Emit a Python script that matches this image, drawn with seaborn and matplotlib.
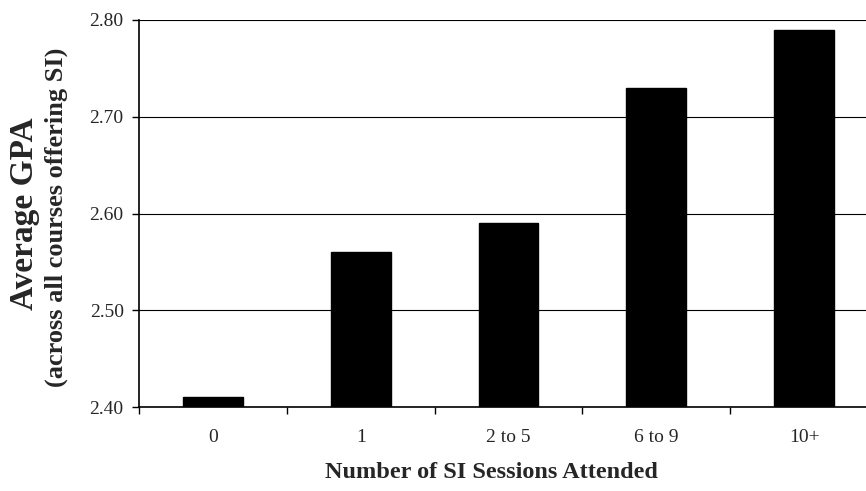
import pandas as pd
import matplotlib.pyplot as plt
import seaborn as sns

sns.set_style("ticks")
plt.rcParams['font.family'] = ['Liberation Serif', 'DejaVu Serif']

sessions = ["0", "1", "2 to 5", "6 to 9", "10+"]
avg_gpa = [2.41, 2.56, 2.59, 2.73, 2.79]
y_ticks = [2.40, 2.50, 2.60, 2.70, 2.80]

df = pd.DataFrame({"Sessions": sessions, "GPA": avg_gpa})

fig = plt.figure(figsize=(8.66, 4.91), dpi=100)
# axes runs off the right edge like in the original crop
ax = fig.add_axes([139 / 866, 1 - 407 / 491, 739 / 866, 387 / 491])

sns.barplot(data=df, x="Sessions", y="GPA", color="black", width=0.405,
            saturation=1, ax=ax)
for p in ax.patches:
    p.set_edgecolor("black")

ax.set_ylim(2.40, 2.80)
ax.set_xlim(-0.5, 4.5)
ax.set_yticks(y_ticks)
ax.set_yticklabels([f"{v:.2f}" for v in y_ticks], fontsize=14)
ax.yaxis.grid(True, color="black", linewidth=0.8)
ax.set_axisbelow(True)

# x ticks sit between the categories
ax.set_xticks([i + 0.5 for i in range(-1, 5)], minor=False)
ax.set_xticklabels([])
ax.set_xticks(range(5), minor=True)
ax.set_xticklabels(sessions, minor=True, fontsize=14)
ax.tick_params(axis="x", which="minor", length=0, pad=16)
ax.tick_params(axis="x", which="major", length=5, width=1, color="black")
ax.tick_params(axis="y", length=5, width=1, color="black", pad=6)

for side in ["left", "bottom"]:
    ax.spines[side].set_color("black")
    ax.spines[side].set_linewidth(1.2)
ax.spines["top"].set_visible(False)
ax.spines["right"].set_visible(False)

ax.set_xlabel("")
ax.set_ylabel("")
fig.text(491 / 866, 1 - 473 / 491, "Number of SI Sessions Attended",
         ha="center", va="center", fontsize=17.5, fontweight="bold")
fig.text(25 / 866, 1 - 214 / 491, "Average GPA", rotation=90,
         ha="center", va="center", fontsize=24, fontweight="bold")
fig.text(56 / 866, 1 - 217 / 491, "(across all courses offering SI)", rotation=90,
         ha="center", va="center", fontsize=19, fontweight="bold")

plt.savefig("out.png", dpi=100)
plt.close()
